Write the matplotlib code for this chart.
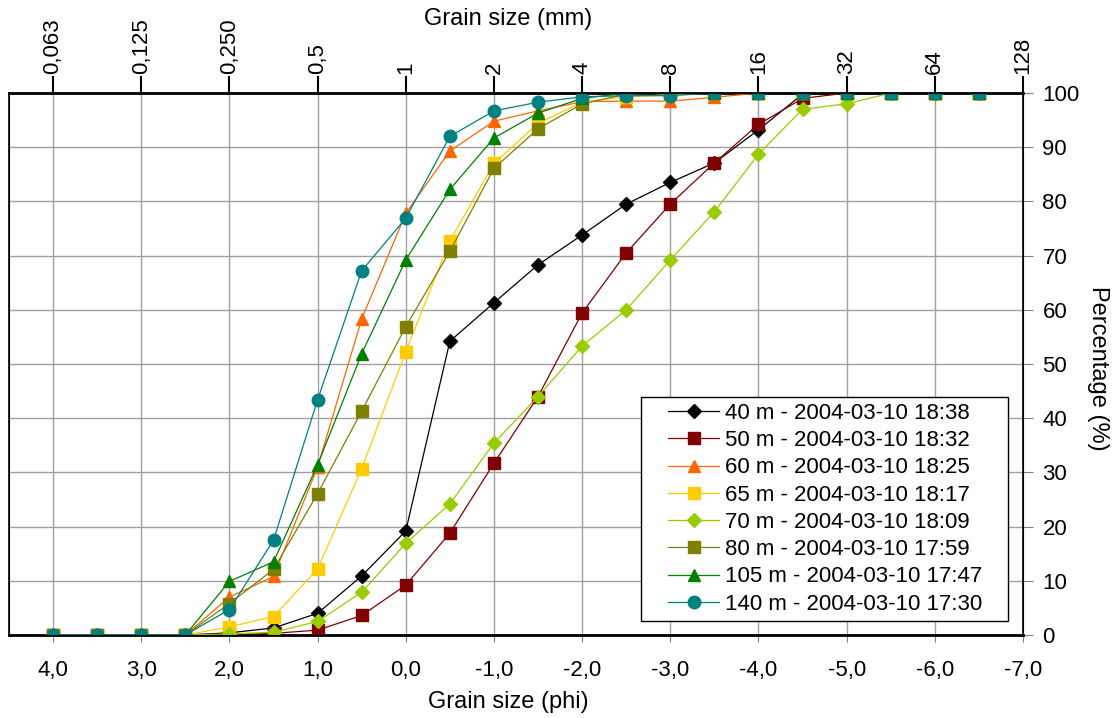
import numpy as np
import matplotlib.pyplot as plt
from matplotlib.patches import Rectangle

phi = [4.0, 3.5, 3.0, 2.5, 2.0, 1.5, 1.0, 0.5, 0.0, -0.5, -1.0, -1.5, -2.0,
       -2.5, -3.0, -3.5, -4.0, -4.5, -5.0, -5.5, -6.0, -6.5]

s40 = [0, 0, 0, 0, 0.4, 1.3, 4.0, 10.9, 19.2, 54.2, 61.3, 68.3, 73.8,
       79.5, 83.5, 87.1, 93.2, 99.8, 100, 100, 100, 100]
s50 = [0, 0, 0, 0, 0.1, 0.3, 0.9, 3.6, 9.2, 18.8, 31.7, 44.0, 59.4,
       70.5, 79.5, 87.1, 94.2, 99.0, 100, 100, 100, 100]
s60 = [0, 0, 0, 0, 7.0, 10.8, 31.0, 58.3, 77.8, 89.3, 94.8, 96.7, 98.4,
       98.5, 98.5, 99.2, 100, 100, 100, 100, 100, 100]
s65 = [0, 0, 0, 0, 1.5, 3.4, 12.2, 30.7, 52.3, 72.7, 87.0, 94.4, 98.3,
       99.3, 99.7, 100, 100, 100, 100, 100, 100, 100]
s70 = [0, 0, 0, 0, 0.2, 0.5, 2.5, 7.9, 16.9, 24.2, 35.4, 44.0, 53.3,
       60.0, 69.2, 78.1, 88.7, 97.0, 98.0, 100, 100, 100]
s80 = [0, 0, 0, 0, 5.8, 12.1, 26.1, 41.3, 56.9, 70.8, 86.1, 93.4, 98.0,
       99.8, 100, 100, 100, 100, 100, 100, 100, 100]
s105 = [0, 0, 0, 0, 9.9, 13.5, 31.4, 51.9, 69.2, 82.2, 91.7, 96.3, 99.0,
        100, 100, 100, 100, 100, 100, 100, 100, 100]
s140 = [0, 0, 0, 0, 4.7, 17.5, 43.4, 67.2, 76.9, 92.0, 96.7, 98.3, 99.3,
        99.5, 99.5, 100, 100, 100, 100, 100, 100, 100]

labels = ['40 m - 2004-03-10 18:38', '50 m - 2004-03-10 18:32',
          '60 m - 2004-03-10 18:25', '65 m - 2004-03-10 18:17',
          '70 m - 2004-03-10 18:09', '80 m - 2004-03-10 17:59',
          '105 m - 2004-03-10 17:47', '140 m - 2004-03-10 17:30']
colors = ['#000000', '#800000', '#FF6600', '#FFCC00',
          '#99CC00', '#808000', '#008000', '#008080']
markers = ['D', 's', '^', 's', 'D', 's', '^', 'o']
msizes = [7, 9, 9, 9, 7, 9, 9, 9]

phi_ticks = [4, 3, 2, 1, 0, -1, -2, -3, -4, -5, -6, -7]
phi_labels = ['4,0', '3,0', '2,0', '1,0', '0,0', '-1,0', '-2,0', '-3,0',
              '-4,0', '-5,0', '-6,0', '-7,0']
mm_labels = ['0,063', '0,125', '0,250', '0,5', '1', '2', '4', '8', '16',
             '32', '64', '128']

plt.rcParams['font.family'] = 'Liberation Sans'

fig = plt.figure(figsize=(11.15, 7.18), dpi=100)
ax = fig.add_axes([9 / 1115, 1 - 635 / 718, 1014 / 1115, 542 / 718])

series = [s40, s50, s60, s65, s70, s80, s105, s140]
for vals, lab, c, m, ms in zip(series, labels, colors, markers, msizes):
    ax.plot(phi, vals, color=c, marker=m, markersize=ms, linewidth=0.9,
            markeredgecolor=c, label=lab, zorder=3)

ax.set_xlim(4.5, -7.0)
ax.set_ylim(0, 100)
ax.set_xticks(phi_ticks)
ax.set_xticklabels(phi_labels, fontsize=16)
ax.set_yticks(range(0, 101, 10))
ax.yaxis.tick_right()
ax.tick_params(axis='y', labelsize=16, length=7, color='#808080', pad=7)
ax.tick_params(axis='x', length=5, color='#808080', pad=13)
ax.grid(True, color='#a0a0a0', linewidth=1)
ax.set_axisbelow(True)
for sp in ax.spines.values():
    sp.set_color('black')
    sp.set_linewidth(1.2)
ax.spines['top'].set_linewidth(2)
ax.spines['bottom'].set_linewidth(2)

top = ax.twiny()
top.set_xlim(ax.get_xlim())
top.set_xticks(phi_ticks)
top.set_xticklabels(mm_labels, fontsize=16, rotation=90)
top.tick_params(axis='x', length=12, width=1.5, color='black', pad=2)

fig.text(508 / 1115, 1 - 19 / 718, 'Grain size (mm)', fontsize=17,
         ha='center', va='center')
fig.text(508 / 1115, 1 - 702 / 718, 'Grain size (phi)', fontsize=17,
         ha='center', va='center')
fig.text(1098 / 1115, 1 - 368 / 718, 'Percentage (%)', fontsize=17,
         ha='center', va='center', rotation=270)

# legend box drawn separately so its padding matches
box = Rectangle((641 / 1115, 1 - 621 / 718), 367 / 1115, 224 / 718,
                transform=fig.transFigure, facecolor='white',
                edgecolor='black', linewidth=1, zorder=5, clip_on=False)
top.add_patch(box)
leg = top.legend(*ax.get_legend_handles_labels(), loc='upper left',
                 bbox_to_anchor=(668 / 1115, 1 - 403 / 718),
                 bbox_transform=fig.transFigure, fontsize=16, frameon=False,
                 handlelength=2.3, handletextpad=0.25, labelspacing=0.28,
                 borderpad=0, borderaxespad=0)
leg.set_zorder(6)

fig.savefig('out.png', dpi=100)
